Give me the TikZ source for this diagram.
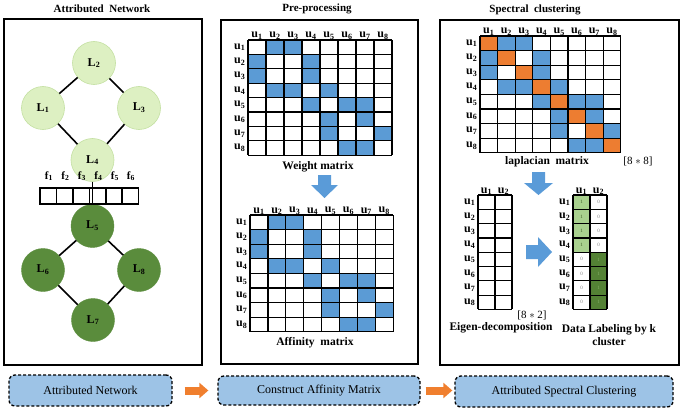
\documentclass[tikz,border=0pt]{standalone}
\usepackage{fontspec}
\setmainfont{Liberation Serif}
\usetikzlibrary{arrows.meta}
\definecolor{cellblue}{HTML}{5B9BD5}
\definecolor{cellorange}{HTML}{ED7D31}
\definecolor{boxblue}{HTML}{9DC3E6}
\definecolor{lgreen}{HTML}{DDF0C2}
\definecolor{lgreenb}{HTML}{C4E0A2}
\definecolor{dgreen}{HTML}{5A8C3C}
\definecolor{lgcell}{HTML}{A9D18E}
\definecolor{dgcell}{HTML}{548235}
\definecolor{arrblue}{HTML}{5A9BD8}
\definecolor{arrorange}{HTML}{F07F2E}
\tikzset{
  gridline/.style={line width=1.2pt, black},
  panel/.style={draw=black, line width=1.5pt},
  ttl/.style={font=\fontsize{11}{12}\selectfont\bfseries},
  lbl/.style={font=\fontsize{12}{13}\selectfont\bfseries, inner sep=0.5pt},
  captxt/.style={font=\fontsize{11.5}{13}\selectfont\bfseries},
  lightnode/.style={circle, minimum size=43pt, inner sep=0pt, fill=lgreen, draw=lgreenb, line width=0.6pt, font=\fontsize{12}{13}\selectfont\bfseries},
  darknode/.style={circle, minimum size=43pt, inner sep=0pt, fill=dgreen, draw=dgreen, font=\fontsize{12}{13}\selectfont\bfseries},
  edge/.style={line width=1.6pt, black},
  flow/.style={draw=black, line width=1.3pt, dash pattern=on 3pt off 2pt, rounded corners=6pt, fill=boxblue, font=\fontsize{12}{13}\selectfont, inner sep=0pt},
  flowarrow/.style={line width=8pt, arrorange, -{Triangle[length=9pt,width=15pt]}},
}
\def\shadedcells{1/2,1/3,2/1,2/4,3/1,3/4,4/2,4/3,4/5,5/4,5/6,5/7,6/5,6/7,7/5,7/8,8/6,8/7}
\newcommand{\shadecells}[4]{%
  \foreach \r/\c in \shadedcells {\fill[cellblue] ({#1+(\c-1)*#3},{#2+(\r-1)*#4}) rectangle ++(#3,#4);}
}
\newcommand{\drawmatrix}[6]{%
  \foreach \i in {0,...,#5} {\draw[gridline] ({#1+\i*#3},#2) -- ++(0,{#6*#4});}
  \foreach \j in {0,...,#6} {\draw[gridline] (#1,{#2+\j*#4}) -- ++({#5*#3},0);}
}
\newcommand{\matlabels}[6]{%
  \foreach \i in {1,...,#5} {\node[lbl, anchor=south] at ({#1+(\i-0.5)*#3},{#2+0.5}) {u\textsubscript{\i}};}
  \foreach \j in {1,...,#6} {\node[lbl, anchor=east] at ({#1-2},{#2+(\j-0.5)*#4}) {u\textsubscript{\j}};}
}
\begin{document}
\begin{tikzpicture}[x=1pt,y=-1pt]
\useasboundingbox (0,0) rectangle (685,409);

% ---------- panels ----------
\draw[panel] (4,19) rectangle (202,365);
\draw[panel] (221,20) rectangle (418,364);
\draw[draw=black, line width=2pt] (440,20) rectangle (679,365);
\node[ttl] at (102,9) {Attributed\ \ Network};
\node[ttl] at (317,9) {Pre-processing};
\node[ttl] at (535,10) {Spectral\ \ clustering};

% ---------- attributed network ----------
\node[lightnode] (L2) at (94,63) {L\textsubscript{2}};
\node[lightnode] (L1) at (43,108) {L\textsubscript{1}};
\node[lightnode] (L3) at (139,108) {L\textsubscript{3}};
\node[lightnode] (L4) at (92.5,160) {L\textsubscript{4}};
\node[darknode] (L5) at (92.5,226) {L\textsubscript{5}};
\node[darknode] (L6) at (43,270) {L\textsubscript{6}};
\node[darknode] (L8) at (139,270) {L\textsubscript{8}};
\node[darknode] (L7) at (93,320) {L\textsubscript{7}};
\draw[edge] (L2) -- (L1);
\draw[edge] (L2) -- (L3);
\draw[edge] (L1) -- (L4);
\draw[edge] (L3) -- (L4);
\draw[edge] (L5) -- (L6);
\draw[edge] (L5) -- (L8);
\draw[edge] (L6) -- (L7);
\draw[edge] (L8) -- (L7);
% feature vector
\foreach \k/\xa in {1/40,2/56.5,3/73,4/89.5,5/106,6/122} {
  \draw[line width=1.6pt] (\xa,188) rectangle ++(16.4,16);
  \node[font=\fontsize{11}{12}\selectfont\bfseries, inner sep=0.5pt] (f\k) at ({\xa+9},176) {f\textsubscript{\k}};
}
\draw[line width=1.6pt] (L4.south) -- (L5.north);

% ---------- weight matrix ----------
\shadecells{248}{40}{18}{14.4}
\drawmatrix{248}{40}{18}{14.4}{8}{8}
\matlabels{248}{40}{18}{14.4}{8}{8}
\node[captxt] at (318,167) {Weight matrix};

% blue down arrow (middle)
\fill[arrblue] (318,175) -- (331,175) -- (331,185) -- (338,185) -- (324.5,198) -- (311,185) -- (318,185) -- cycle;

% ---------- affinity matrix ----------
\shadecells{250}{215}{17.9}{14.6}
\drawmatrix{250}{215}{17.9}{14.6}{8}{8}
\matlabels{250}{215}{17.9}{14.6}{8}{8}
\node[captxt] at (315,343) {Affinity\ \ matrix};

% ---------- laplacian matrix ----------
\foreach \d in {1,...,8} {\fill[cellorange] ({480+(\d-1)*17.6},{36+(\d-1)*14.6}) rectangle ++(17.6,14.6);}
\shadecells{480}{36}{17.6}{14.6}
\drawmatrix{480}{36}{17.6}{14.6}{8}{8}
\matlabels{480}{36}{17.6}{14.6}{8}{8}
\node[captxt] at (547,162) {laplacian\ \ matrix};
\node[font=\fontsize{11}{12}\selectfont] at (638,161) {[8 $*$ 8]};

% blue down arrow (right)
\fill[arrblue] (532,172) -- (545,172) -- (545,183) -- (553,183) -- (538.5,195) -- (524,183) -- (532,183) -- cycle;

% ---------- eigen-decomposition ----------
\drawmatrix{478}{195}{17}{14.3}{2}{8}
\matlabels{478}{195}{17}{14.3}{2}{8}
\node[font=\fontsize{11}{12}\selectfont] at (532,315) {[8 $*$ 2]};
\node[captxt] at (501,328) {Eigen-decomposition};

% blue right arrow
\fill[arrblue] (526,245) -- (538,245) -- (538,237) -- (552,252) -- (538,267) -- (538,259) -- (526,259) -- cycle;

% ---------- data labeling ----------
\foreach \r in {1,...,4} {
  \fill[lgcell] (573,{195+(\r-1)*14.3}) rectangle ++(17,14.3);
  \fill[dgcell] (590,{195+(\r+3)*14.3}) rectangle ++(17,14.3);
}
\drawmatrix{573}{195}{17}{14.3}{2}{8}
\matlabels{573}{195}{17}{14.3}{2}{8}
\foreach \r in {1,...,4} {
  \node[font=\fontsize{5}{5}\selectfont, text=dgcell!70!black] at (581.5,{195+(\r-0.5)*14.3}) {1};
  \node[font=\fontsize{5}{5}\selectfont, text=gray] at (598.5,{195+(\r-0.5)*14.3}) {0};
  \node[font=\fontsize{5}{5}\selectfont, text=gray] at (581.5,{195+(\r+3.5)*14.3}) {0};
  \node[font=\fontsize{5}{5}\selectfont, text=lgcell!60!dgcell] at (598.5,{195+(\r+3.5)*14.3}) {1};
}
\node[captxt, align=center] at (609,335) {Data Labeling by k\\cluster};

% ---------- bottom flow ----------
\node[flow, minimum width=163pt, minimum height=31pt] (b1) at (90.5,390.5) {Attributed Network};
\node[flow, minimum width=202pt, minimum height=29pt] (b2) at (319,390.5) {Construct Affinity Matrix};
\node[flow, minimum width=218pt, minimum height=31pt] (b3) at (564,391.5) {Attributed Spectral Clustering};
\draw[flowarrow, shorten <=12pt, shorten >=9pt] (b1.east) -- (b2.west);
\draw[flowarrow, shorten <=5pt, shorten >=2pt] (b2.east) -- (b3.west |- b2.east);
\end{tikzpicture}
\end{document}
